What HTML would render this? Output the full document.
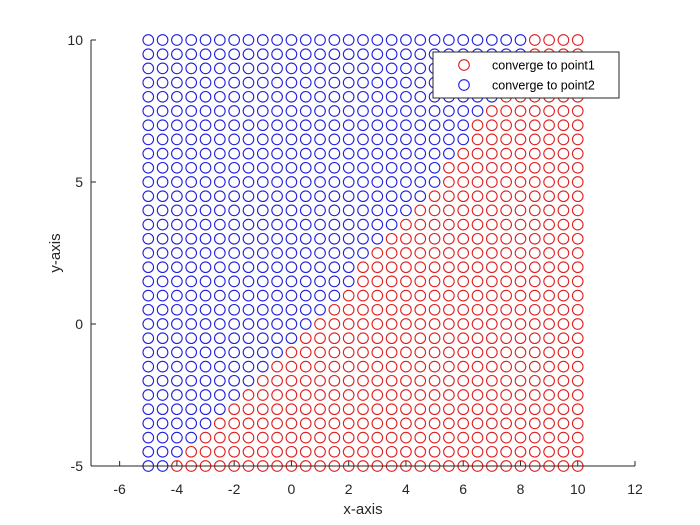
<!DOCTYPE html>
<html><head><meta charset="utf-8"><style>
html,body{margin:0;padding:0;background:#fff;}
svg{display:block;font-family:"Liberation Sans",sans-serif;}
</style></head><body>
<svg id="chart" width="700" height="525" viewBox="0 0 700 525">
<g id="points"></g>
<g id="axes"></g>
</svg>
<script>
// number of blue (converge to point2) points per row, rows from y=10 down to y=-5
const rowYs = [10,9.5,9,8.5,8,7.5,7,6.5,6,5.5,5,4.5,4,3.5,3,2.5,2,1.5,1,0.5,0,-0.5,-1,-1.5,-2,-2.5,-3,-3.5,-4,-4.5,-5];
const blueCounts = [27,27,26,26,25,24,23,23,22,21,21,20,19,18,17,16,15,15,14,13,12,11,10,9,8,7,6,5,4,3,2];
const gridXs = [-5,-4.5,-4,-3.5,-3,-2.5,-2,-1.5,-1,-0.5,0,0.5,1,1.5,2,2.5,3,3.5,4,4.5,5,5.5,6,6.5,7,7.5,8,8.5,9,9.5,10];
const xTicks = [-6,-4,-2,0,2,4,6,8,10,12];
const yTicks = [-5,0,5,10];
const legendLabels = ["converge to point1","converge to point2"];

const NS = "http://www.w3.org/2000/svg";
const xMin=-7,xMax=12,yMin=-5,yMax=10;
const L=91,R=635,T=40,B=466;
function sx(v){return L+(v-xMin)/(xMax-xMin)*(R-L);}
function sy(v){return B-(v-yMin)/(yMax-yMin)*(B-T);}
function mk(tag,attrs,parent){const e=document.createElementNS(NS,tag);for(const k in attrs)e.setAttribute(k,attrs[k]);parent.appendChild(e);return e;}

const pts=document.getElementById('points');
rowYs.forEach((y,ri)=>{
  gridXs.forEach((x,ci)=>{
    const blue = ci < blueCounts[ri];
    const c=mk('circle',{cx:sx(x),cy:sy(y),r:5.3,fill:'none',stroke:blue?'#2020e0':'#e02020','stroke-width':1.1},pts);
    
    
  });
});

const ax=document.getElementById('axes');
let ln=mk('line',{x1:L,y1:B,x2:R,y2:B,stroke:'#262626','stroke-width':1},ax);


ln=mk('line',{x1:L,y1:T,x2:L,y2:B,stroke:'#262626','stroke-width':1},ax);


xTicks.forEach(v=>{
  const x=sx(v);
  const t=mk('line',{x1:x,y1:B,x2:x,y2:B-5,stroke:'#262626','stroke-width':1},ax);
  
  
  const tx=mk('text',{x:x,y:B+28,'text-anchor':'middle','font-size':14,fill:'#262626'},ax);
  tx.textContent=v;
  
  
});
yTicks.forEach(v=>{
  const y=sy(v);
  const t=mk('line',{x1:L,y1:y,x2:L+5,y2:y,stroke:'#262626','stroke-width':1},ax);
  
  
  const tx=mk('text',{x:L-8,y:y+5,'text-anchor':'end','font-size':14,fill:'#262626'},ax);
  tx.textContent=v;
  
  
});
let xl=mk('text',{x:(L+R)/2,y:514,'text-anchor':'middle','font-size':15,fill:'#262626'},ax);
xl.textContent='x-axis';


let yl=mk('text',{x:0,y:0,'text-anchor':'middle','font-size':15,fill:'#262626',transform:'translate(60,253) rotate(-90)'},ax);
yl.textContent='y-axis';



// legend
const lg=mk('g',{},ax);


mk('rect',{x:433,y:52,width:186,height:46,fill:'#fff',stroke:'#262626','stroke-width':1},lg);
const lcol=['#e02020','#2020e0'];
legendLabels.forEach((s,i)=>{
  const y=65+i*20;
  const g=mk('g',{},lg);
  
  
  mk('circle',{cx:464,cy:y,r:5.3,fill:'none',stroke:lcol[i],'stroke-width':1.1},g);
  const t=mk('text',{x:492,y:y+4.5,'font-size':12.5,fill:'#000'},g);
  t.textContent=s;
});
</script>
</body></html>
